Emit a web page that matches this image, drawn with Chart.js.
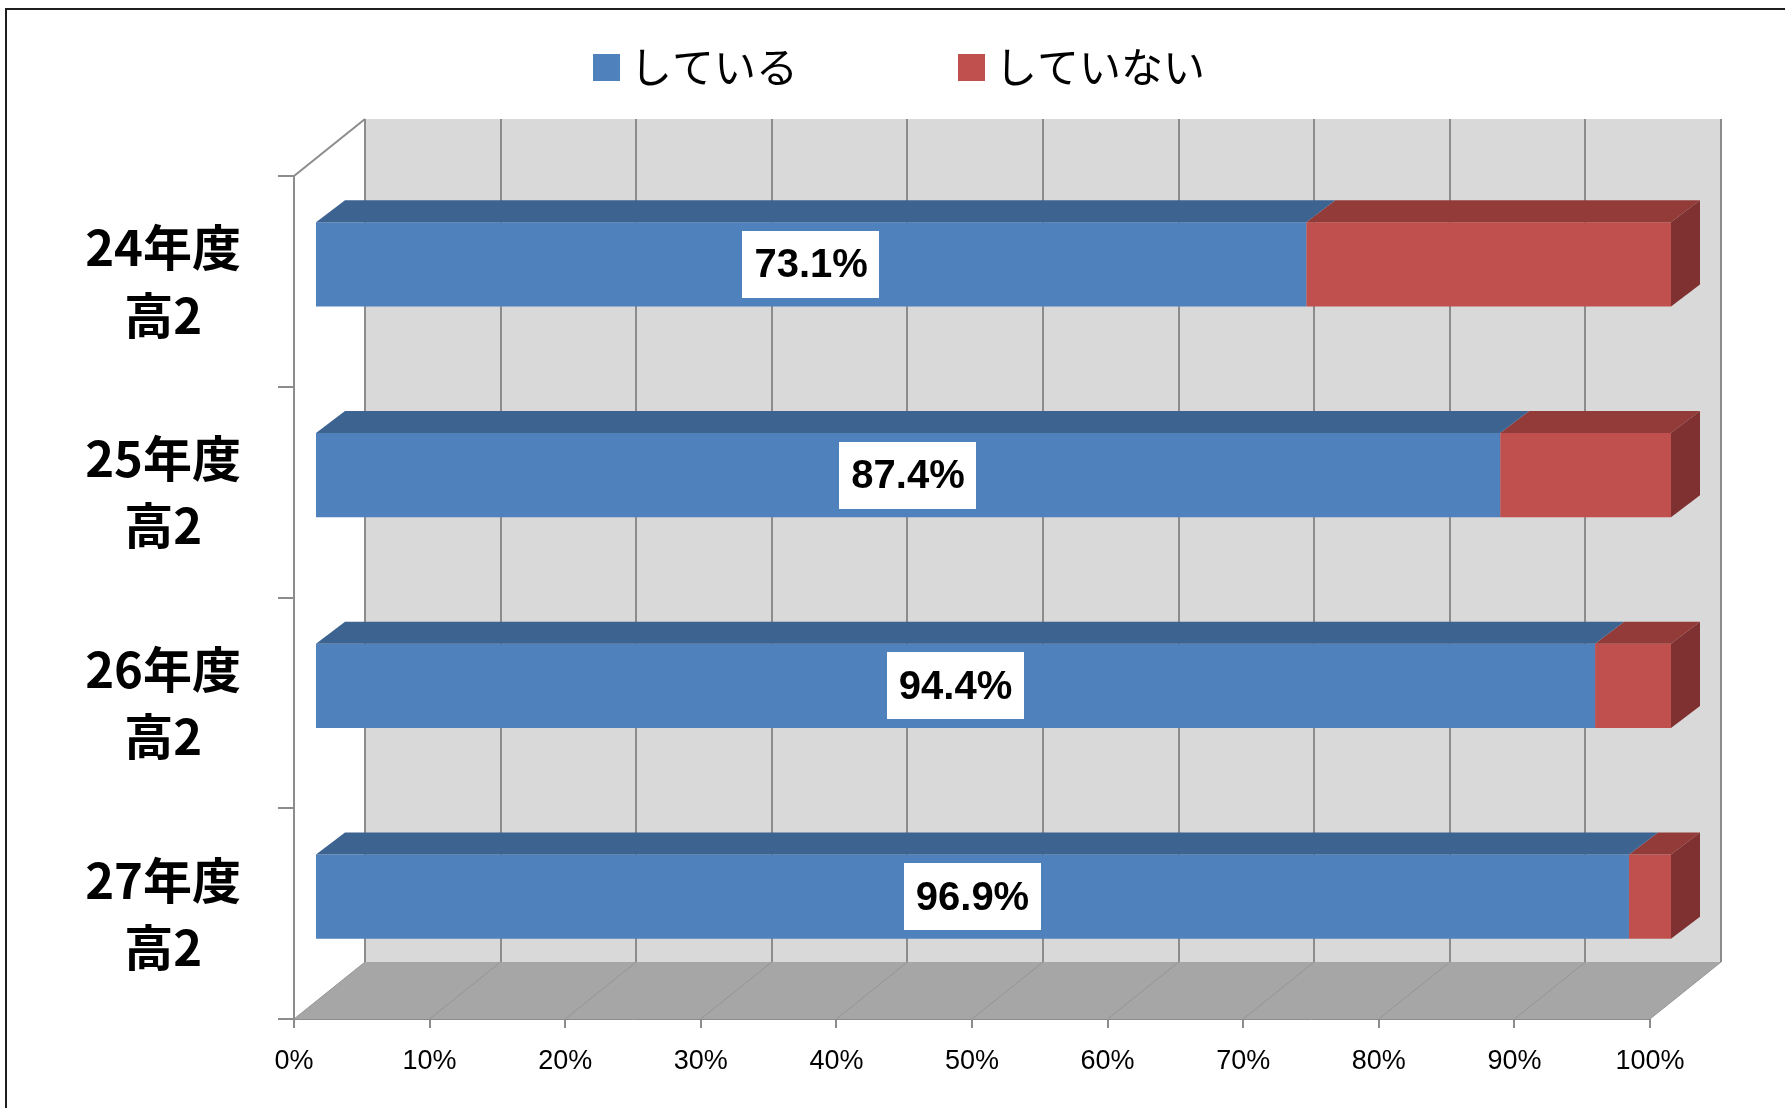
<!DOCTYPE html>
<html lang="ja">
<head>
<meta charset="utf-8">
<title>している / していない</title>
<script src="https://cdn.jsdelivr.net/npm/chart.js@4.4.1/dist/chart.umd.min.js"></script>
<style>
  html, body { margin: 0; padding: 0; background: #fff; }
  #wrap { position: relative; width: 1785px; height: 1108px; overflow: hidden; }
</style>
</head>
<body>
<div id="wrap"><canvas id="chart" width="1785" height="1108"></canvas></div>
<script>
// Data
const categories = [
  ["24年度", "高2"],
  ["25年度", "高2"],
  ["26年度", "高2"],
  ["27年度", "高2"],
];
const seriesNames = ["している", "していない"];
const doingValues = [73.1, 87.4, 94.4, 96.9];
const notDoingValues = [26.9, 12.6, 5.6, 3.1];
const tickLabels = ["0%", "10%", "20%", "30%", "40%", "50%", "60%", "70%", "80%", "90%", "100%"];

// Styles
const FACE = [
  { front: "#4f81bd", top: "#3d6391", side: "#36587f" },
  { front: "#c0504d", top: "#933b39", side: "#7e3130" },
];
const GRID = "#8c8c8c";
const WALL_DX = 71;   // depth of the 3D box
const WALL_DY = -57;
const BAR_DX = 21;    // bars sit a bit behind the front plane
const BAR_DY = -17;
const BAR_DEPTH_X = 29;
const BAR_DEPTH_Y = -22;
const LEGEND_X = [593, 958];
const LEGEND_Y = 54;
const LEGEND_BOX = 27;

function poly(ctx, pts, fill) {
  ctx.beginPath();
  ctx.moveTo(pts[0][0], pts[0][1]);
  pts.slice(1).forEach((p) => ctx.lineTo(p[0], p[1]));
  ctx.closePath();
  ctx.fillStyle = fill;
  ctx.fill();
}

// Walls, floor, bar depth faces, value labels and legend
const box3d = {
  id: "box3d",
  beforeDraw(chart) {
    const { ctx, chartArea: a, scales } = chart;
    const x = scales.x;
    const x0 = x.getPixelForValue(0);
    const x1 = x.getPixelForValue(100);
    ctx.save();
    // back wall
    ctx.fillStyle = "#d9d9d9";
    ctx.fillRect(x0 + WALL_DX, a.top + WALL_DY, x1 - x0, a.bottom - a.top);
    ctx.strokeStyle = GRID;
    ctx.lineWidth = 2;
    x.ticks.forEach((t) => {
      const px = Math.round(x.getPixelForValue(t.value) + WALL_DX);
      ctx.beginPath();
      ctx.moveTo(px, a.top + WALL_DY);
      ctx.lineTo(px, a.bottom + WALL_DY);
      ctx.stroke();
    });
    // floor
    poly(ctx, [
      [x0, a.bottom], [x1, a.bottom],
      [x1 + WALL_DX, a.bottom + WALL_DY], [x0 + WALL_DX, a.bottom + WALL_DY],
    ], "#a6a6a6");
    ctx.strokeStyle = "#959595";
    ctx.lineWidth = 1;
    x.ticks.forEach((t) => {
      const px = x.getPixelForValue(t.value);
      ctx.beginPath();
      ctx.moveTo(px, a.bottom);
      ctx.lineTo(px + WALL_DX, a.bottom + WALL_DY);
      ctx.stroke();
    });
    // left side wall top edge
    ctx.strokeStyle = GRID;
    ctx.lineWidth = 2;
    ctx.beginPath();
    ctx.moveTo(x0, a.top);
    ctx.lineTo(x0 + WALL_DX, a.top + WALL_DY);
    ctx.stroke();
    ctx.restore();
  },
  beforeDatasetsDraw(chart) {
    chart.ctx.save();
    chart.ctx.translate(BAR_DX, BAR_DY);
  },
  afterDatasetDraw(chart, args) {
    const ctx = chart.ctx;
    const face = FACE[args.index];
    const isLast = args.index === chart.data.datasets.length - 1;
    args.meta.data.forEach((bar) => {
      const { x, y, base, height } = bar.getProps(["x", "y", "base", "height"], true);
      const left = Math.min(x, base);
      const right = Math.max(x, base);
      const top = y - height / 2;
      const bottom = y + height / 2;
      poly(ctx, [
        [left, top], [right, top],
        [right + BAR_DEPTH_X, top + BAR_DEPTH_Y], [left + BAR_DEPTH_X, top + BAR_DEPTH_Y],
      ], face.top);
      if (isLast) {
        poly(ctx, [
          [right, top], [right + BAR_DEPTH_X, top + BAR_DEPTH_Y],
          [right + BAR_DEPTH_X, bottom + BAR_DEPTH_Y], [right, bottom],
        ], face.side);
      }
    });
  },
  afterDatasetsDraw(chart) {
    const ctx = chart.ctx;
    ctx.restore();
    // value labels on the first series
    const meta = chart.getDatasetMeta(0);
    ctx.save();
    ctx.font = "bold 40px 'Liberation Sans', Arial, sans-serif";
    ctx.textAlign = "center";
    ctx.textBaseline = "middle";
    meta.data.forEach((bar, i) => {
      const { x, y, base } = bar.getProps(["x", "y", "base"], true);
      const cx = (x + base) / 2 + BAR_DX;
      const cy = y + BAR_DY;
      const text = doingValues[i].toFixed(1) + "%";
      const w = ctx.measureText(text).width + 24;
      const h = 67;
      ctx.fillStyle = "#fff";
      ctx.fillRect(Math.round(cx - w / 2), Math.round(cy - h / 2), Math.round(w), h);
      ctx.fillStyle = "#000";
      ctx.fillText(text, cx, cy + 2);
    });
    ctx.restore();
  },
  afterDraw(chart) {
    const ctx = chart.ctx;
    ctx.save();
    // legend
    ctx.font = "42px 'Noto Sans CJK JP', sans-serif";
    ctx.textBaseline = "middle";
    ctx.textAlign = "left";
    chart.data.datasets.forEach((ds, i) => {
      ctx.fillStyle = ds.backgroundColor;
      ctx.fillRect(LEGEND_X[i], LEGEND_Y, LEGEND_BOX, LEGEND_BOX);
      ctx.fillStyle = "#000";
      ctx.fillText(ds.label, LEGEND_X[i] + 37, LEGEND_Y + LEGEND_BOX / 2);
    });
    // outer frame
    ctx.strokeStyle = "#1f1f1f";
    ctx.lineWidth = 2;
    ctx.strokeRect(6, 9, 2000, 2000);
    ctx.restore();
  },
};

new Chart(document.getElementById("chart"), {
  type: "bar",
  data: {
    labels: categories,
    datasets: [
      { label: seriesNames[0], data: doingValues, backgroundColor: FACE[0].front },
      { label: seriesNames[1], data: notDoingValues, backgroundColor: FACE[1].front },
    ],
  },
  options: {
    indexAxis: "y",
    responsive: false,
    animation: false,
    layout: { padding: { top: 176, right: 135, left: 0, bottom: 0 } },
    datasets: { bar: { categoryPercentage: 1, barPercentage: 0.4 } },
    scales: {
      x: {
        stacked: true,
        min: 0,
        max: 100,
        ticks: {
          stepSize: 10,
          callback: (v, i) => tickLabels[i],
          font: { family: "'Liberation Sans', Arial, sans-serif", size: 27 },
          color: "#000",
          padding: 17,
          maxRotation: 0,
        },
        grid: { drawOnChartArea: false, tickLength: 9, color: GRID, lineWidth: 2 },
        border: { color: GRID, width: 1 },
        afterFit: (s) => { s.height = 89; },
      },
      y: {
        stacked: true,
        ticks: {
          font: { family: "'Noto Sans CJK JP', sans-serif", size: 49, weight: "bold", lineHeight: 1.37 },
          color: "#000",
          crossAlign: "center",
          padding: 37,
          autoSkip: false,
        },
        grid: { drawOnChartArea: false, tickLength: 16, color: GRID, lineWidth: 2 },
        border: { color: GRID, width: 2 },
        afterFit: (s) => {
          s.width = 294;
          s.paddingTop = 0;
          s.paddingBottom = 0;
        },
      },
    },
    plugins: { legend: { display: false }, tooltip: { enabled: false } },
  },
  plugins: [box3d],
});
</script>
</body>
</html>
